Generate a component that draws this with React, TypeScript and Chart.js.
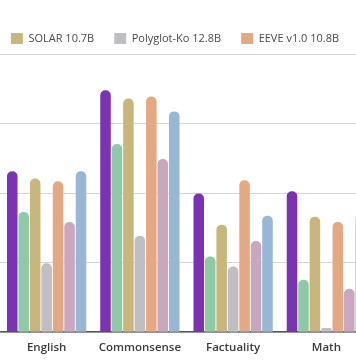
import React, { useEffect, useRef } from "react";
import { Chart, registerables } from "chart.js";

Chart.register(...registerables);

const categories = ["English", "Commonsense", "Factuality", "Math"];

const seriesNames = ["Model A", "Model B", "SOLAR 10.7B", "Polyglot-Ko 12.8B", "EEVE v1.0 10.8B", "Model F", "Model G"];
const shownInLegend = ["SOLAR 10.7B", "Polyglot-Ko 12.8B", "EEVE v1.0 10.8B"];

const purpleValues = [46.3, 69.6, 39.9, 40.5];
const greenValues = [34.6, 54.1, 21.8, 15.1];
const solarValues = [44.2, 67.2, 30.9, 33.2];
const polyglotValues = [19.8, 27.7, 18.9, 1.2];
const eeveValues = [43.4, 67.8, 43.7, 31.7];
const mauveValues = [31.7, 49.8, 26.2, 12.5];
const blueValues = [46.3, 63.5, 33.5, 33.8];

const seriesValues = [purpleValues, greenValues, solarValues, polyglotValues, eeveValues, mauveValues, blueValues];
const seriesColors = ["#7b33b3", "#8fcaa6", "#c9b67c", "#bfbfc3", "#e4a882", "#c9a7bf", "#98b7d4"];

const yMax = 80;
const yStep = 20;

export default function App() {
  const ref = useRef<HTMLCanvasElement | null>(null);

  useEffect(() => {
    if (!ref.current) return;
    const chart = new Chart(ref.current, {
      type: "bar",
      data: {
        labels: categories,
        datasets: seriesNames.map((name, i) => ({
          label: name,
          data: seriesValues[i],
          backgroundColor: seriesColors[i],
          borderWidth: 0,
          borderRadius: { topLeft: 5, topRight: 5, bottomLeft: 0, bottomRight: 0 },
          borderSkipped: "start",
          categoryPercentage: 0.86,
          barPercentage: 0.92,
        })),
      },
      options: {
        responsive: false,
        animation: false,
        layout: { padding: { top: 13, bottom: 0, left: 0, right: 0 } },
        plugins: {
          tooltip: { enabled: false },
          legend: {
            display: true,
            position: "top",
            align: "center",
            labels: {
              filter: (item: any) => shownInLegend.includes(item.text),
              boxWidth: 12,
              boxHeight: 11,
              padding: 20,
              color: "#4a4a4a",
              font: { family: "Open Sans", size: 11, weight: "normal" },
            },
          },
        },
        scales: {
          x: {
            grid: { display: false, drawTicks: false },
            border: { display: true, color: "#555555", width: 1.5 },
            ticks: {
              padding: 9,
              color: "#3a3a3a",
              font: { family: "Open Sans", size: 11.5, weight: "600" },
            },
          },
          y: {
            min: 0,
            max: yMax,
            ticks: { display: false, stepSize: yStep },
            grid: { color: "#d4d4d4", lineWidth: 1, drawTicks: false },
            border: { display: false },
            afterFit: (s: any) => {
              s.width = 23;
            },
          },
        },
      },
    });
    return () => chart.destroy();
  }, []);

  return (
    <div style={{ position: "fixed", left: 0, top: 0, width: 356, height: 364, overflow: "hidden", background: "#ffffff" }}>
      <div style={{ position: "absolute", left: -23, top: 0 }}>
        <canvas ref={ref} width={396} height={364} style={{ display: "block" }} />
      </div>
    </div>
  );
}
